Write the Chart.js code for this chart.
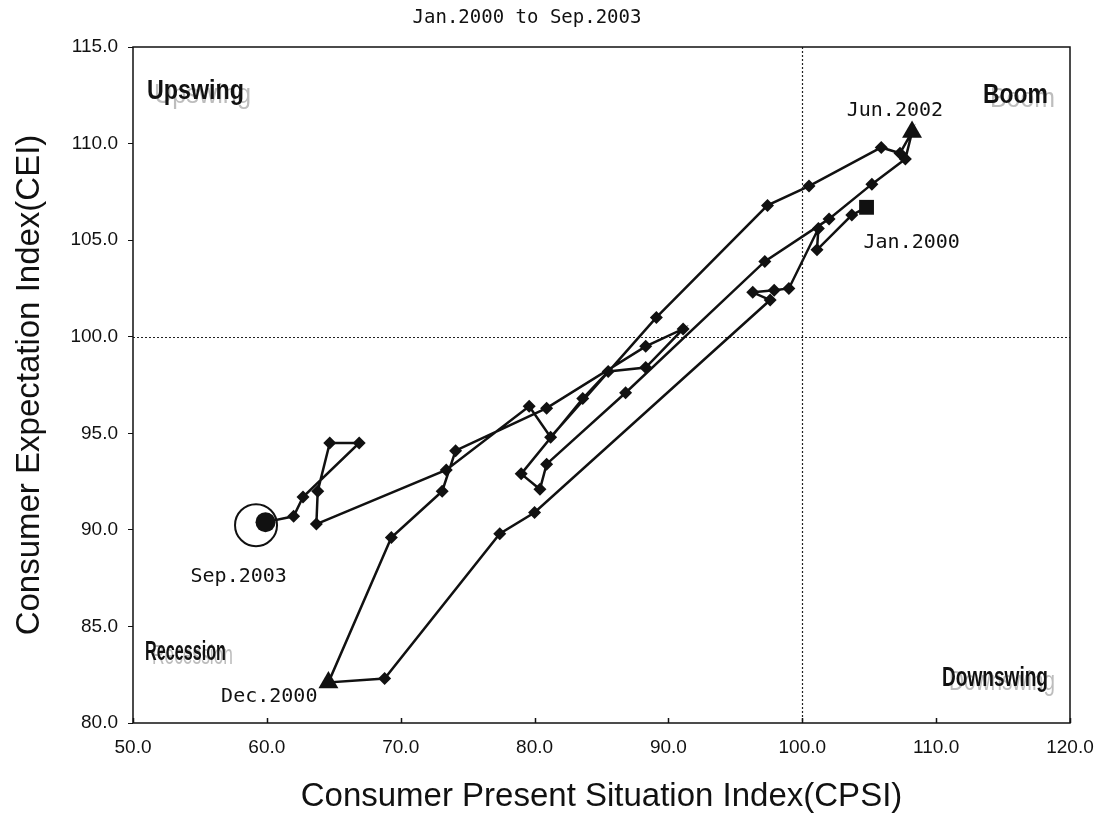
<!DOCTYPE html>
<html>
<head>
<meta charset="utf-8">
<script src="https://cdn.jsdelivr.net/npm/chart.js@4.4.1/dist/chart.umd.min.js"></script>
<style>
  html, body { margin: 0; padding: 0; background: #fff; }
  #wrap { width: 1108px; height: 819px; }
</style>
</head>
<body>
<div id="wrap"><canvas id="cycle" width="1108" height="819"></canvas></div>
<script>
// monthly path, Jan.2000 .. Sep.2003
var months = [
  'Jan.2000','Feb.2000','Mar.2000','Apr.2000','May.2000','Jun.2000','Jul.2000','Aug.2000','Sep.2000','Oct.2000','Nov.2000','Dec.2000',
  'Jan.2001','Feb.2001','Mar.2001','Apr.2001','May.2001','Jun.2001','Jul.2001','Aug.2001','Sep.2001','Oct.2001','Nov.2001','Dec.2001',
  'Jan.2002','Feb.2002','Mar.2002','Apr.2002','May.2002','Jun.2002','Jul.2002','Aug.2002','Sep.2002','Oct.2002','Nov.2002','Dec.2002',
  'Jan.2003','Feb.2003','Mar.2003','Apr.2003','May.2003','Jun.2003','Jul.2003','Aug.2003','Sep.2003'
];
var cpsi = [
  104.8, 103.7, 101.1, 101.2, 99.0, 97.9, 96.3, 97.6, 80.0, 77.4, 68.8, 64.6,
  69.3, 73.1, 74.1, 80.9, 88.3, 91.1, 88.3, 85.5, 83.6, 79.0, 80.4, 80.9,
  86.8, 97.2, 102.0, 105.2, 107.7, 108.2, 107.3, 105.9, 100.5, 97.4, 89.1, 81.2,
  79.6, 73.4, 63.7, 63.8, 64.7, 66.9, 62.7, 62.0, 59.9
];
var cei = [
  106.7, 106.3, 104.5, 105.6, 102.5, 102.4, 102.3, 101.9, 90.9, 89.8, 82.3, 82.1,
  89.6, 92.0, 94.1, 96.3, 99.5, 100.4, 98.4, 98.2, 96.8, 92.9, 92.1, 93.4,
  97.1, 103.9, 106.1, 107.9, 109.2, 110.6, 109.5, 109.8, 107.8, 106.8, 101.0, 94.8,
  96.4, 93.1, 90.3, 92.0, 94.5, 94.5, 91.7, 90.7, 90.4
];
// labelled months
var marked = ['Jan.2000', 'Dec.2000', 'Jun.2002', 'Sep.2003'];
var xTicks = [50, 60, 70, 80, 90, 100, 110, 120];
var yTicks = [80, 85, 90, 95, 100, 105, 110, 115];
var refX = 100, refY = 100;
var quadrants = ['Upswing', 'Boom', 'Recession', 'Downswing'];
var title = 'Jan.2000 to Sep.2003';

var pts = months.map(function (m, i) { return { x: cpsi[i], y: cei[i] }; });
var styles = months.map(function (m, i) {
  if (i === 0) return 'rect';
  if (m === 'Dec.2000' || m === 'Jun.2002') return 'triangle';
  if (i === months.length - 1) return 'circle';
  return 'rectRot';
});
var radii = styles.map(function (s) {
  return s === 'rect' ? 10.5 : s === 'triangle' ? 11.5 : s === 'circle' ? 10 : 6.5;
});

function monoFont(size) { return size + 'px "DejaVu Sans Mono", monospace'; }

var decor = {
  id: 'decor',
  beforeDatasetsDraw: function (chart) {
    var ctx = chart.ctx, a = chart.chartArea;
    var xs = chart.scales.x, ys = chart.scales.y;
    ctx.save();
    ctx.strokeStyle = '#222';
    ctx.lineWidth = 1.2;
    ctx.setLineDash([2, 2]);
    var px = Math.round(xs.getPixelForValue(refX)) + 0.5;
    var py = Math.round(ys.getPixelForValue(refY)) + 0.5;
    ctx.beginPath();
    ctx.moveTo(px, a.top); ctx.lineTo(px, a.bottom);
    ctx.moveTo(a.left, py); ctx.lineTo(a.right, py);
    ctx.stroke();
    ctx.setLineDash([]);
    // frame
    ctx.strokeStyle = '#111';
    ctx.lineWidth = 1.5;
    ctx.strokeRect(a.left, a.top, a.right - a.left, a.bottom - a.top);
    // inward ticks on x axis
    ctx.beginPath();
    xTicks.forEach(function (v) {
      var x = Math.round(xs.getPixelForValue(v)) + 0.5;
      ctx.moveTo(x, a.bottom); ctx.lineTo(x, a.bottom - 5);
    });
    ctx.stroke();

    // quadrant words: dark bold copy with a grey shadow copy
    function word(txt, x, y, w) {
      ctx.textBaseline = 'alphabetic';
      ctx.textAlign = 'left';
      ctx.font = '27px "Liberation Sans", sans-serif';
      var nat = ctx.measureText(txt).width;
      ctx.save();
      ctx.translate(x + 7, y + 4);
      ctx.scale(w / nat, 1);
      ctx.fillStyle = '#bdbdbd';
      ctx.fillText(txt, 0, 0);
      ctx.restore();
      ctx.font = 'bold 27px "Liberation Sans", sans-serif';
      nat = ctx.measureText(txt).width;
      ctx.save();
      ctx.translate(x, y);
      ctx.scale(w / nat, 1);
      ctx.fillStyle = '#111';
      ctx.fillText(txt, 0, 0);
      ctx.restore();
    }
    word(quadrants[0], a.left + 14, a.top + 52, 97);
    word(quadrants[1], a.right - 87, a.top + 56, 65);
    word(quadrants[2], a.left + 12, a.bottom - 63, 81);
    word(quadrants[3], a.right - 128, a.bottom - 37, 106);
    ctx.restore();
  },
  afterDatasetsDraw: function (chart) {
    var ctx = chart.ctx;
    var meta = chart.getDatasetMeta(0);
    ctx.save();
    // ring around the last month
    var last = meta.data[months.length - 1];
    ctx.strokeStyle = '#111';
    ctx.lineWidth = 2;
    ctx.beginPath();
    ctx.arc(last.x - 9.5, last.y + 3, 21, 0, Math.PI * 2);
    ctx.stroke();

    ctx.fillStyle = '#111';
    ctx.font = monoFont(20);
    ctx.textBaseline = 'middle';
    var off = {
      'Jan.2000': [-3, 35, 'left'],
      'Dec.2000': [-11, 14, 'right'],
      'Jun.2002': [31, -21, 'right'],
      'Sep.2003': [-75, 55, 'left']
    };
    marked.forEach(function (m) {
      var p = meta.data[months.indexOf(m)];
      var o = off[m];
      ctx.textAlign = o[2];
      ctx.fillText(m, p.x + o[0], p.y + o[1]);
    });
    // title
    ctx.textAlign = 'center';
    ctx.font = monoFont(19);
    ctx.fillText(title, 527, 18);
    ctx.restore();
  }
};

var chart = new Chart(document.getElementById('cycle'), {
  type: 'scatter',
  data: {
    datasets: [{
      data: pts,
      showLine: true,
      borderColor: '#111',
      borderWidth: 2.5,
      backgroundColor: '#111',
      pointBackgroundColor: '#111',
      pointBorderColor: '#111',
      pointBorderWidth: 0,
      pointStyle: styles,
      pointRadius: radii,
      tension: 0
    }]
  },
  options: {
    responsive: false,
    animation: false,
    devicePixelRatio: 1,
    layout: { padding: { top: 47, right: 38, left: 0, bottom: 0 } },
    plugins: { legend: { display: false }, tooltip: { enabled: false } },
    scales: {
      x: {
        type: 'linear', min: 50, max: 120,
        afterBuildTicks: function (s) { s.ticks = xTicks.map(function (v) { return { value: v }; }); },
        afterFit: function (s) { s.height = 96; },
        grid: { drawOnChartArea: false, drawTicks: false },
        border: { display: false },
        ticks: {
          padding: 13, color: '#111',
          font: { family: 'Liberation Sans', size: 19 },
          callback: function (v) { return Number(v).toFixed(1); }
        },
        title: {
          display: true, text: 'Consumer Present Situation Index(CPSI)',
          color: '#111', font: { family: 'Liberation Sans', size: 33 },
          padding: { top: 0, bottom: 2 }
        }
      },
      y: {
        type: 'linear', min: 80, max: 115,
        afterBuildTicks: function (s) { s.ticks = yTicks.map(function (v) { return { value: v }; }); },
        afterFit: function (s) { s.width = 133; },
        grid: { drawOnChartArea: false, drawTicks: true, tickLength: 5, color: '#111' },
        border: { display: false },
        ticks: {
          padding: 10, color: '#111',
          font: { family: 'Liberation Sans', size: 19 },
          callback: function (v) { return Number(v).toFixed(1); }
        },
        title: {
          display: true, text: 'Consumer Expectation Index(CEI)',
          color: '#111', font: { family: 'Liberation Sans', size: 33 },
          padding: { top: 10, bottom: 0 }
        }
      }
    }
  },
  plugins: [decor]
});
</script>
</body>
</html>
